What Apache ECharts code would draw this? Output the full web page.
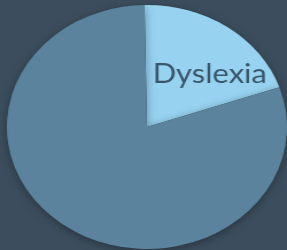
<!DOCTYPE html>
<html>
<head>
<meta charset="utf-8">
<script src="https://cdn.jsdelivr.net/npm/echarts@6/dist/echarts.min.js"></script>
<style>
  html, body { margin: 0; padding: 0; background: #3c4e5d; overflow: hidden; }
  /* the source pie is stretched into an ellipse, so the canvas is widened */
  #chart { width: 250px; height: 250px; transform: scaleX(1.148); transform-origin: 0 0; }
</style>
</head>
<body>
<div id="chart"></div>
<script>
// slice names, shares and colours
const categories = ['Dyslexia', 'Other'];
const values = [20, 80];
const colors = ['#97d3f1', '#5b839d'];
const showLabel = [true, false];

let myChart = echarts.init(document.getElementById('chart'));

myChart.setOption({
    backgroundColor: '#3c4e5d',
    animation: false,
    series: [{
        type: 'pie',
        center: [128, 127],
        radius: 122,
        startAngle: 91,
        clockwise: true,
        itemStyle: {
            shadowBlur: 8,
            shadowColor: 'rgba(0,0,0,0.35)',
            shadowOffsetY: 2
        },
        label: {
            position: 'inside',
            fontFamily: 'Lato',
            fontSize: 27,
            color: '#3a566b',
            padding: [0, 0, 6, 36]
        },
        labelLine: { show: false },
        data: categories.map((name, i) => ({
            name: name,
            value: values[i],
            itemStyle: { color: colors[i] },
            label: { show: showLabel[i] }
        }))
    }]
});
</script>
</body>
</html>
